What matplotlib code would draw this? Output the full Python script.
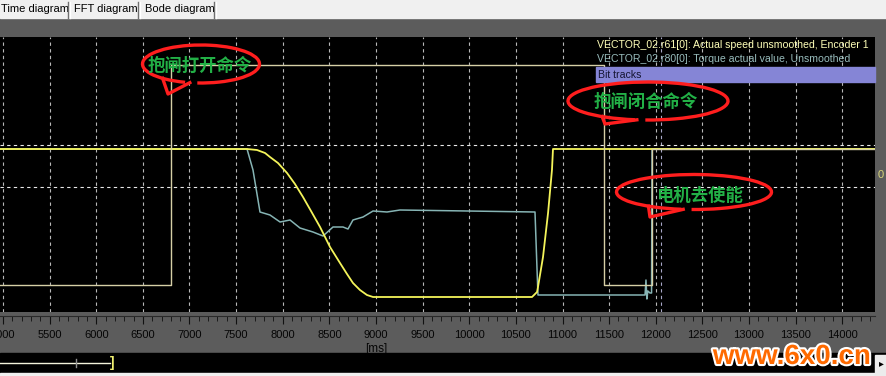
if True:  # imports
    import matplotlib
    matplotlib.use('Agg')
    import matplotlib.pyplot as plt
    from matplotlib.patches import Rectangle, Arc
    import matplotlib.patheffects as pe
    import numpy as np

# ---- data (time in ms, values in screen units, 0 = the dashed zero line)
speed_t = [4960, 7590, 7617, 7724, 7810, 7863, 7949, 8046, 8131, 8217, 8303, 8400,
           8507, 8614, 8689, 8753, 8828, 8903, 8968, 10673, 10727, 10737, 10791,
           10845, 10887, 10898, 14360]
speed_v = [38, 38, 38, 37, 34, 30, 24, 14, 3, -10, -24, -40,
           -60, -76, -87, -96, -103, -108, -110, -110, -105, -100, -70,
           -26, 17, 38, 38]

torque_t = [4960, 7617, 7681, 7756, 7863, 7971, 8078, 8185, 8324, 8432, 8539, 8646,
            8700, 8753, 8861, 8968, 9118, 9257, 10705, 10727, 10737, 11885, 11895,
            11905, 11915, 11938, 11955, 11960, 14360]
torque_v = [38, 38, 17, -25, -28, -35, -33, -41, -45, -49, -40, -40,
            -42, -33, -30, -24, -25, -23, -25, -83, -108, -108, -93,
            -112, -104, -106, -106, 38, 38]

brake_t = [4960, 6800, 6800, 11445, 11445, 11960, 11960, 14360]
brake_v = [-98, -98, 122, 122, -98, -98, 38, 38]

grid_ms = list(range(5000, 14001, 500))
hlines_v = [42, 0]
cursor_ms = 12060
xlim = (4968, 14351)
ylim = (-125, 150)

legend_lines = ["VECTOR_02.r61[0]: Actual speed unsmoothed, Encoder 1",
                "VECTOR_02.r80[0]: Torque actual value, Unsmoothed"]
tabs = ["Time diagram", "FFT diagram", "Bode diagram"]
notes = ["抱闸打开命令", "抱闸闭合命令", "电机去使能"]

W, H = 887, 376
def box(x0, y0, x1, y1):  # pixel box -> figure fractions
    return [x0 / W, 1 - y1 / H, (x1 - x0) / W, (y1 - y0) / H]

fig = plt.figure(figsize=(8.87, 3.76), dpi=100, facecolor='#5c5c5c')
cjk = ['Noto Sans CJK SC', 'DejaVu Sans']

if True:  # main scope area
    ax = fig.add_axes(box(0, 37, 875, 312))
    ax.set_facecolor('black')
    ax.set_xlim(*xlim)
    ax.set_ylim(*ylim)
    for s in ax.spines.values():
        s.set_visible(False)
    ax.set_xticks([])
    ax.set_yticks([])
    for g in grid_ms:
        ax.axvline(g, color='#b8b8b8', lw=0.8, ls=(0, (3, 3)), zorder=1)
    ax.axvline(cursor_ms, color='#a8a8c8', lw=0.8, ls=(0, (3, 3)), zorder=1)
    for v in hlines_v:
        ax.axhline(v, color='#e8e8e8', lw=0.8, ls=(0, (3, 3)), zorder=1)
    ax.plot(torque_t, torque_v, color='#86b4b4', lw=1.1, zorder=3)
    ax.plot(speed_t, speed_v, color='#f4f45a', lw=1.3, zorder=4)
    ax.plot(brake_t, brake_v, color='#d6cfa6', lw=1.0, zorder=5)

if True:  # time ruler
    rx = fig.add_axes(box(0, 316, 875, 353))
    rx.set_facecolor('#5c5c5c')
    rx.set_xlim(*xlim)
    rx.set_ylim(0, 1)
    for k, s in rx.spines.items():
        s.set_visible(k == 'top')
    rx.spines['top'].set_color('#2a2a2a')
    rx.set_yticks([])
    rx.xaxis.set_ticks_position('top')
    rx.set_xticks(grid_ms)
    rx.set_xticks(range(5000, 14351, 100), minor=True)
    rx.tick_params(axis='x', which='major', direction='in', length=6, color='#111111',
                   labeltop=False, labelbottom=False)
    rx.tick_params(axis='x', which='minor', direction='in', length=3.5, color='#111111')
    for g in grid_ms:
        rx.text(g, 0.5, str(g), ha='center', va='center', fontsize=8,
                family='Liberation Sans', color='#050505')
    rx.text(9000, 0.1, "[ms]", ha='center', va='center', fontsize=8.5,
            family='Liberation Sans', color='#050505')

if True:  # overlay in pixel coordinates: tabs, legend, bubbles, scrollbar
    ov = fig.add_axes([0, 0, 1, 1])
    ov.set_xlim(0, W)
    ov.set_ylim(H, 0)
    ov.axis('off')
    ov.patch.set_alpha(0)

    ov.add_patch(Rectangle((0, 0), W, 18, color='#f0f0f0', zorder=1))
    tab_x = [0, 73, 144]
    sep_x = [68, 138, 214]
    for t, x0, sx in zip(tabs, tab_x, sep_x):
        ov.text(x0 + 1, 9.5, t, ha='left', va='center', fontsize=8,
                family='Liberation Sans', color='#000000', zorder=3)
        ov.plot([sx, sx], [2, 18], color='#707070', lw=1, zorder=3)
        ov.plot([sx + 2, sx + 2], [2, 18], color='#ffffff', lw=1, zorder=3)

    ov.text(597, 45, legend_lines[0], ha='left', va='center', fontsize=7.6,
            family='Liberation Sans', color='#ffffb8', zorder=3)
    ov.text(597, 59.5, legend_lines[1], ha='left', va='center', fontsize=7.6,
            family='Liberation Sans', color='#98bcbc', zorder=3)
    ov.add_patch(Rectangle((596, 67), 279, 15, color='#8585d6', zorder=2))
    ov.text(598, 74.5, "Bit tracks", ha='left', va='center', fontsize=7.6,
            family='Liberation Sans', color='#141432', zorder=3)
    ov.text(881, 175, "0", ha='center', va='center', fontsize=8,
            family='Liberation Sans', color='#d8d478', zorder=3)

    def bubble(cx, cy, w, h, a_left, a_right, tip):
        ov.add_patch(Arc((cx, cy), w, h, theta1=a_left, theta2=a_right + 360,
                         color='#ff1e1e', lw=2.4, zorder=6))
        p1 = (cx + w / 2 * np.cos(np.radians(a_left)), cy + h / 2 * np.sin(np.radians(a_left)))
        p2 = (cx + w / 2 * np.cos(np.radians(a_right)), cy + h / 2 * np.sin(np.radians(a_right)))
        ov.plot([p1[0], tip[0], p2[0]], [p1[1], tip[1], p2[1]], color='#ff1e1e',
                lw=2.4, solid_joinstyle='round', zorder=6)

    bubble(201, 64, 117, 38, 131, 101, (168, 94))
    bubble(648, 101, 160, 38, 125, 98, (605, 124))
    bubble(694, 192, 155, 35, 126, 98, (650, 217))
    for t, (x, y) in zip(notes, [(200, 66), (646, 102), (699, 196)]):
        ov.text(x, y, t, ha='center', va='center', fontsize=12.5, family=cjk,
                fontweight='bold', color='#22b046', zorder=7)

    ov.add_patch(Rectangle((0, 353), W, 20, color='black', zorder=1))
    ov.add_patch(Rectangle((0, 373), W, 3, color='#f0f0f0', zorder=1))
    ov.plot([0, 110], [363, 363], color='#f4f4dc', lw=1, zorder=3)
    ov.plot([76, 76], [359, 367], color='#909090', lw=1, zorder=3)
    ov.text(112, 363, "]", ha='center', va='center', fontsize=10, fontweight='bold',
            family='Liberation Sans', color='#f0f070', zorder=3)
    ov.add_patch(Rectangle((875, 355), 12, 21, color='#ececec', zorder=2))
    ov.text(881, 363, "▸", ha='center', va='center', fontsize=7, color='black', zorder=3)

    ov.text(792, 357, "www.6x0.cn", ha='center', va='center', fontsize=20,
            fontweight='bold', family='Liberation Sans', color='#ff6a00', zorder=8,
            path_effects=[pe.withStroke(linewidth=3, foreground='white')])

fig.savefig("out.png", dpi=100, facecolor=fig.get_facecolor())
